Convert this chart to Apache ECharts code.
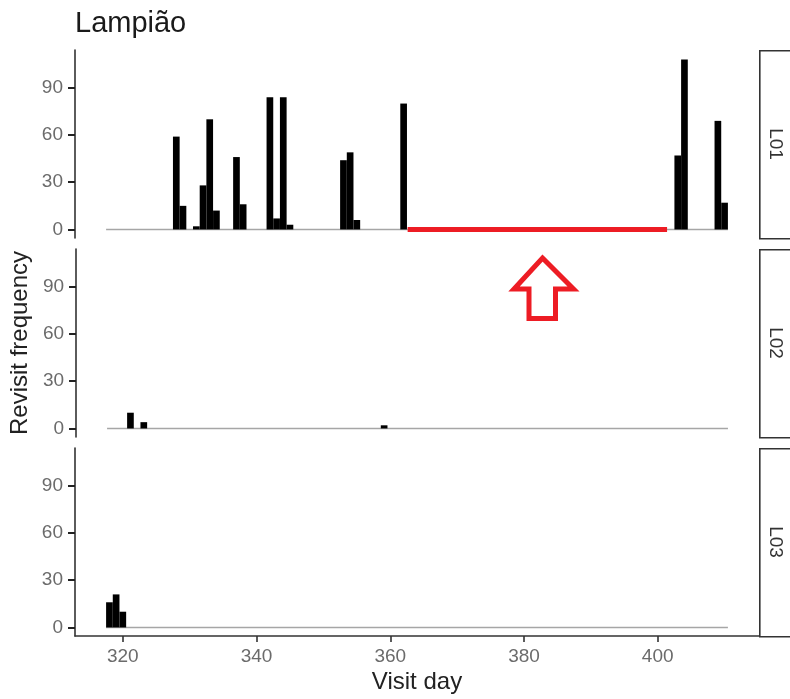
<!DOCTYPE html>
<html>
<head>
<meta charset="utf-8">
<script src="https://cdn.jsdelivr.net/npm/echarts@6/dist/echarts.min.js"></script>
<style>
  html, body { margin: 0; padding: 0; background: #fff; }
  #chart { width: 790px; height: 699px; }
</style>
</head>
<body>
<div id="chart"></div>
<script>
// Revisit frequency per visit day, one facet per location
const panelNames = ['L01', 'L02', 'L03'];

const daysL01 = [328, 329, 331, 332, 333, 334, 337, 338, 342, 343, 344, 345, 353, 354, 355, 362, 403, 404, 409, 410];
const freqL01 = [59, 15, 2, 28, 70, 12, 46, 16, 84, 7, 84, 3, 44, 49, 6, 80, 47, 108, 69, 17];

const daysL02 = [321, 323, 359];
const freqL02 = [10, 4, 2];

const daysL03 = [318, 319, 320];
const freqL03 = [16, 21, 10];

// observed day span (zero baseline) and the gap without visits at L01
const daySpan = [317.5, 410.5];
const gapDays = [362.6, 401.4];

const xTicks = [320, 340, 360, 380, 400];
const yTicks = [0, 30, 60, 90];

const xRange = [312.85, 415.15];
const yRange = [-5.43, 114.03];

const FONT = '"Liberation Sans", Arial, sans-serif';
const panelTops = [50, 249, 448];
const panelH = 188;
const plotLeft = 75;
const plotRight = 759;

const facetData = [
  daysL01.map((d, i) => [d, freqL01[i]]),
  daysL02.map((d, i) => [d, freqL02[i]]),
  daysL03.map((d, i) => [d, freqL03[i]])
];

function renderBar(params, api) {
  const d = api.value(0);
  const v = api.value(1);
  const p0 = api.coord([d - 0.5, v]);
  const p1 = api.coord([d + 0.5, 0]);
  return {
    type: 'rect',
    shape: { x: p0[0], y: p0[1], width: p1[0] - p0[0], height: p1[1] - p0[1] },
    style: { fill: '#000' }
  };
}

const grids = [], xAxes = [], yAxes = [], series = [], graphics = [];

panelTops.forEach((top, i) => {
  const last = i === panelTops.length - 1;
  grids.push({ left: plotLeft, width: plotRight - plotLeft, top: top, height: panelH });
  xAxes.push({
    type: 'value', gridIndex: i, min: xRange[0], max: xRange[1],
    splitLine: { show: false },
    axisLine: { show: last, onZero: false, lineStyle: { color: '#333', width: 1.6 } },
    axisTick: { show: last, length: 6, lineStyle: { color: '#333', width: 1.6 }, customValues: xTicks },
    axisLabel: { show: last, fontSize: 19, color: '#6b6b6b', fontFamily: FONT, margin: 11, customValues: xTicks },
    name: last ? 'Visit day' : '',
    nameLocation: 'middle', nameGap: 34,
    nameTextStyle: { fontSize: 24, color: '#222', fontFamily: FONT }
  });
  yAxes.push({
    type: 'value', gridIndex: i, min: yRange[0], max: yRange[1],
    splitLine: { show: false },
    axisLine: { show: true, onZero: false, lineStyle: { color: '#333', width: 1.6 } },
    axisTick: { show: true, inside: false, length: 7, lineStyle: { color: '#222', width: 2 }, customValues: yTicks },
    axisLabel: { fontSize: 19, color: '#6b6b6b', fontFamily: FONT, margin: 12, customValues: yTicks },
    name: i === 1 ? 'Revisit frequency' : '',
    nameLocation: 'middle', nameGap: 38,
    nameTextStyle: { fontSize: 24, color: '#222', fontFamily: FONT }
  });
  series.push({
    type: 'line', xAxisIndex: i, yAxisIndex: i, z: 1,
    data: daySpan.map(d => [d, 0]), symbol: 'none', silent: true,
    lineStyle: { color: '#a6a6a6', width: 1.6 }
  });
  series.push({
    type: 'custom', xAxisIndex: i, yAxisIndex: i, z: 2,
    renderItem: renderBar, encode: { x: 0, y: 1 },
    data: facetData[i]
  });
  // facet strip on the right
  graphics.push({
    type: 'rect', left: plotRight, top: top, z: 10,
    shape: { width: 40, height: panelH },
    style: { fill: '#fff', stroke: '#333', lineWidth: 1.6 }
  });
  graphics.push({
    type: 'text', x: 775, y: top + panelH / 2, rotation: -Math.PI / 2, z: 11,
    style: { text: panelNames[i], fontSize: 19, fill: '#333', fontFamily: FONT, align: 'center', verticalAlign: 'middle' }
  });
});

// highlighted gap in visits at L01
series.push({
  type: 'line', xAxisIndex: 0, yAxisIndex: 0, z: 3,
  data: gapDays.map(d => [d, 0]), symbol: 'none', silent: true,
  lineStyle: { color: '#ed1c24', width: 5 }
});

// outlined arrow pointing at the gap
graphics.push({
  type: 'polygon', z: 12,
  shape: { points: [[542.5, 258], [573.5, 289], [555.5, 289], [555.5, 318.5], [529, 318.5], [529, 289], [514, 289]] },
  style: { fill: 'none', stroke: '#ed1c24', lineWidth: 5, lineJoin: 'miter' }
});

const chart = echarts.init(document.getElementById('chart'), null, { renderer: 'canvas' });
chart.setOption({
  animation: false,
  backgroundColor: '#fff',
  title: {
    text: 'Lampião', left: 70, top: 4,
    textStyle: { fontSize: 29, fontWeight: 'normal', color: '#1a1a1a', fontFamily: FONT }
  },
  grid: grids,
  xAxis: xAxes,
  yAxis: yAxes,
  series: series,
  graphic: graphics
});
</script>
</body>
</html>
